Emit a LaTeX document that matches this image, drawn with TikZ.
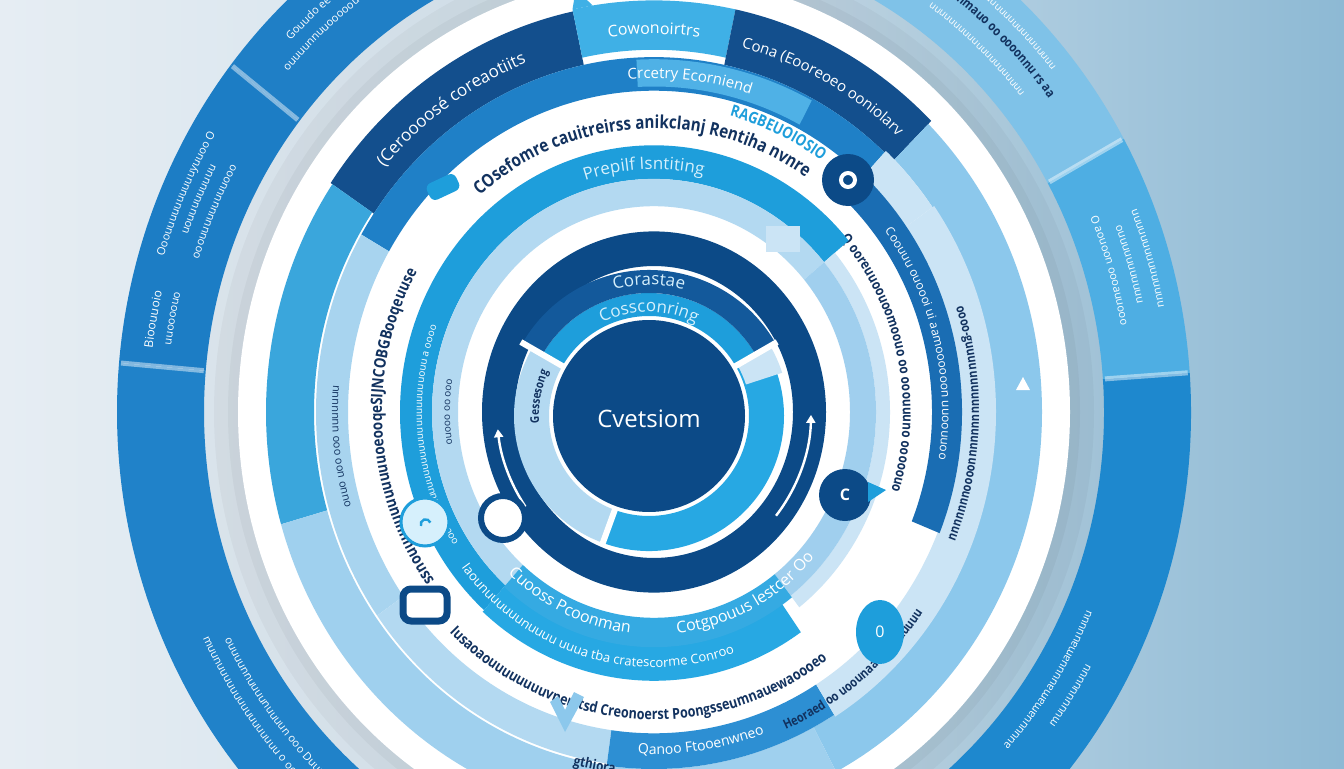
\documentclass[tikz,border=0pt]{standalone}
\usepackage{fontspec}
\setmainfont{Open Sans}
\newfontfamily\cond[FakeStretch=0.84]{Open Sans}
\usetikzlibrary{decorations.text,arrows.meta,shapes.geometric}
\definecolor{bgL}{HTML}{E6EDF3}
\definecolor{bgR}{HTML}{8DB9D4}
\definecolor{navy}{HTML}{0C4A87}
\definecolor{navyS}{HTML}{134F8D}
\definecolor{navyB}{HTML}{13599B}
\definecolor{blueA}{HTML}{1F80C7}
\definecolor{blueD}{HTML}{1A6DB3}
\definecolor{blueQ}{HTML}{2D8FD3}
\definecolor{cyanA}{HTML}{1E9EDB}
\definecolor{cyanB}{HTML}{35AAE2}
\definecolor{cyanC}{HTML}{27A8E3}
\definecolor{cyanL}{HTML}{3FB0E6}
\definecolor{cyanBox}{HTML}{4FB1E6}
\definecolor{lightA}{HTML}{B3D9F1}
\definecolor{lightR}{HTML}{A0CFEE}
\definecolor{lightB}{HTML}{8CC8EC}
\definecolor{lightC}{HTML}{CBE4F5}
\definecolor{lightL}{HTML}{A8D4EF}
\definecolor{lightD}{HTML}{9FD0EE}
\definecolor{medA}{HTML}{3AA6DC}
\definecolor{outA}{HTML}{1F7FC6}
\definecolor{outB}{HTML}{1C7DC5}
\definecolor{outC}{HTML}{2082C9}
\definecolor{outD}{HTML}{7FC2E8}
\definecolor{outE}{HTML}{4EAEE3}
\definecolor{outF}{HTML}{1E88CE}
\definecolor{txt}{HTML}{12325F}
\definecolor{paleT}{HTML}{D6F0FC}
\def\ky{1.05}
\newcommand\fs[1]{\fontsize{#1}{#1}\selectfont}
\newcommand\rseg[5][]{\fill[#1] ({#3*cos(#4)},{\ky*#3*sin(#4)}) arc[start angle=#4,end angle=#5,x radius=#3,y radius=\ky*#3] -- ({#2*cos(#5)},{\ky*#2*sin(#5)}) arc[start angle=#5,end angle=#4,x radius=#2,y radius=\ky*#2] -- cycle;}
\newcommand\tarc[5]{\path[decorate,decoration={text along path,text align=center,text={|#4|#5}}] ({#1*cos(#2)},{\ky*#1*sin(#2)}) arc[start angle=#2,end angle=#3,x radius=#1,y radius=\ky*#1];}
\newcommand\radl[4][]{\draw[#1] ({#2*cos(#4)},{\ky*#2*sin(#4)}) -- ({#3*cos(#4)},{\ky*#3*sin(#4)});}
\tikzset{divider/.style={white,opacity=0.45,line width=2.5},
  sep/.style={white,line width=3},
  wtxt/.style={text=white},
  iconnavy/.style={circle,fill=navy,minimum size=26,inner sep=0,text=white,font=\bfseries\fs{8}}}
\begin{document}
\begin{tikzpicture}[x=0.5pt,y=0.5pt]
\useasboundingbox (0,0) rectangle (1344,768);
\clip (0,0) rectangle (1344,768);
\shade[left color=bgL,right color=bgR,middle color=bgL!75!bgR] (0,0) rectangle (1344,768);
\begin{scope}[shift={(654,356)}]
% soft shadow of the white disc
\rseg[black,opacity=0.025]{410}{456}{0}{360}
\rseg[black,opacity=0.03]{410}{440}{0}{360}
\rseg[black,opacity=0.035]{410}{426}{0}{360}
% outer band
\rseg[outA]{450}{537}{100}{142}
\rseg[outB]{450}{537}{142}{175}
\rseg[outC]{450}{537}{175}{275}
\rseg[outF]{450}{537}{-85}{4}
\rseg[outE]{450}{537}{4}{29}
\rseg[outD]{450}{537}{29}{100}
\radl[divider]{452}{535}{142}
\radl[divider]{452}{535}{175}
\radl[divider]{452}{535}{29}
\radl[divider]{452}{535}{4}
% outer band texts
\tarc{507}{140}{116}{\fs{5.5}\color{white}}{Gouudo ee oooouuuunuue}
\tarc{489}{141}{115}{\fs{5.5}\color{white}}{ouuuunnuuooooouuuuuuuuuuuuu}
\tarc{512}{166}{146}{\fs{5.5}\color{white}}{Ooouuuuuuuuuuyuuoo O}
\tarc{496}{165}{147}{\fs{5.5}\color{white}}{uouuuuuuuuu}
\tarc{478}{167}{146}{\fs{5.5}\color{white}}{ooouuuuuuuuuooo}
\tarc{505}{174}{166}{\fs{6}\color{white}}{Bioouuoio}
\tarc{487}{173}{166}{\fs{5.5}\color{white}}{uuoooouo}
\tarc{500}{196}{238}{\fs{5.5}\color{white}}{muunuuuuuuuuuuuuuuuu o ooo unnm}
\tarc{481}{198}{236}{\fs{5.5}\color{white}}{ouuuunnuuuunuuuun ooo Duuuu}
\tarc{495}{62}{32}{\cond\bfseries\fs{6.5}\color{txt}}{(Auooonmauo oo oooonnu rs aa}
\tarc{514}{58}{36}{\fs{5}\color{white}}{uuuuuuuuuuuuuuuuuuuuuuu}
\tarc{474}{58}{36}{\fs{5}\color{white}}{uuuuuuuuuuuuuuuuuuuuu}
\tarc{474}{27}{6}{\fs{5.5}\color{white}}{O aouoon oooauuooo}
\tarc{494}{27}{6}{\fs{5.5}\color{white}}{ouuuuuuuuuuu}
\tarc{514}{27}{6}{\fs{5.5}\color{white}}{uuuuuuuuuuuuuuu}
\tarc{478}{-52}{-14}{\fs{5.5}\color{white}}{auuuuuamamauuuuamauuuuu}
\tarc{500}{-46}{-20}{\fs{5.5}\color{white}}{muuuuuuuuu}
% white disc
\fill[white] (0,0) ellipse[x radius=416,y radius=436.8];
% ring L8
\rseg[navyS]{338}{390}{102}{146}
\rseg[cyanL]{345}{392}{78}{102}
\rseg[navyS]{338}{392}{45}{78}
\rseg[lightB]{340}{388}{-62}{45}
\rseg[medA]{340}{388}{146}{196}
\rseg[lightD]{340}{388}{196}{298}
\fill[cyanL] ({392*cos(102)},{\ky*392*sin(102)}) -- ({410*cos(101)},{\ky*410*sin(101)}) -- ({392*cos(99)},{\ky*392*sin(99)}) -- cycle;
\tarc{356}{146}{104}{\fs{8.5}\color{white}}{(Ceroooosé coreaotiits}
\tarc{360}{100}{80}{\fs{8}\color{white}}{Cowonoirtrs}
\tarc{358}{77}{46}{\fs{7.5}\color{white}}{Cona (Eooreoeo ooniolarv}
% ring L7
\rseg[blueA]{306}{338}{47}{150}
\rseg[lightC]{306}{340}{35}{47}
\rseg[cyanBox]{310}{336}{62}{93}
\rseg[lightL]{306}{338}{150}{215}
\rseg[lightA]{306}{338}{215}{262}
\rseg[blueQ]{306}{340}{262}{302}
\rseg[lightC]{306}{342}{-58}{35}
\tarc{318}{96}{71}{\fs{7.5}\color{white}}{Crcetry Ecorniend}
\tarc{316}{206}{166}{\fs{5.5}\color{txt}}{ouuo uoo ooo uuuuuuu}
\tarc{326}{265}{292}{\fs{7}\color{white}}{Qanoo Ftooenwneo}
\tarc{318}{36}{-40}{\cond\bfseries\fs{6.5}\color{txt}}{oooo-guuuuuuuuuuuuuuuuuoooouuuuuuu}
% ring L6 right blue band
\rseg[blueD]{278}{308}{-22}{50}
\tarc{288}{46}{-18}{\fs{6}\color{white}}{Coouuu ouoooi ui aamoooooon uuoouuoo}
\tarc{249}{44}{-20}{\cond\bfseries\fs{7}\color{txt}}{Q ooreuuoouoomoouo oo ooouuuno ooooouo}
% ring L5
\rseg[cyanA]{222}{254}{40}{228}
\rseg[cyanC]{222}{256}{228}{305}
\rseg[lightC]{222}{236}{-52}{40}
% ring L4
\rseg[lightA]{196}{222}{40}{228}
\rseg[lightR]{196}{222}{-52}{40}
\rseg[cyanB]{196}{224}{228}{308}
% texts L4/L5/L6
\tarc{231}{127.5}{57.5}{\fs{8.5}\color{paleT}}{Prepilf Isntiting}
\tarc{232}{222}{150}{\fs{5}\color{white}}{oouuuuuuuuuuuuuuuuuuuuuuuuuuouu a oooo}
\tarc{204}{200}{160}{\fs{5}\color{txt}}{ouooo oo ooo}
\tarc{212}{228}{264}{\fs{8}\color{white}}{Cuooss Pcoonmans}
\tarc{212}{278}{320}{\fs{8}\color{white}}{Cotgpouus lestcer Ooo}
\tarc{243}{215}{292}{\fs{6.5}\color{white}}{Iaounuuuuuunuuuu uuua tba cratescorme Conroo}
\tarc{270}{136}{50}{\cond\bfseries\fs{9}\color{txt}}{COsefomre cauitreirss anikclanj Rentiha nvnre}
\tarc{292}{76}{54}{\cond\bfseries\fs{8}\color{cyanA}}{RAGBEUOIOSIO}
\tarc{272}{212}{150}{\cond\bfseries\fs{8}\color{txt}}{ssnouuuuuuuuuuuuoeooqeSIJNCOBGBooqeuuseqiis}
\tarc{293}{222}{310}{\cond\bfseries\fs{7.5}\color{txt}}{Iusaoaouuuuuuuuvnerstsd Creonoerst Poongsseumnauewaoooeo}
\tarc{346}{254}{266}{\cond\bfseries\fs{7}\color{txt}}{gthiora}
\tarc{330}{-72}{-30}{\cond\bfseries\fs{6.5}\color{txt}}{Heoraed oo uoounaaaoooaauuuu}
% navy ring L2
\rseg[navy]{139}{172}{0}{360}
\draw[white,line width=1.2,-{Triangle[length=4pt,width=4.5pt]}] ({157*cos(215)},{\ky*157*sin(215)}) arc[start angle=215,end angle=186,x radius=157,y radius=\ky*157];
\draw[white,line width=1.2,-{Triangle[length=4pt,width=4.5pt]}] ({157*cos(-39)},{\ky*157*sin(-39)}) arc[start angle=-39,end angle=-1,x radius=157,y radius=\ky*157];
% icons
\node[iconnavy] (ic1) at (194,232) {};
\draw[white,line width=2] (ic1.center) circle[radius=7];
\node[iconnavy] (ic2) at (191,-83) {C};
\node[circle,draw=cyanA,line width=1.5,fill=paleT,minimum size=24,inner sep=0] (ic3) at (-229,-110) {};
\draw[cyanA,line width=1.2] (ic3.center) ++(-4,-4) arc[start angle=200,end angle=20,radius=5];
\node[circle,draw=navy,line width=3,fill=white,minimum size=22,inner sep=0] (ic4) at (-151,-106) {};
\node[rectangle,rounded corners=4,draw=navy,line width=3.5,fill=white,minimum width=22,minimum height=16,inner sep=0] (ic5) at (-229,-193) {};
\node[ellipse,fill=cyanA,minimum width=24,minimum height=32,inner sep=0,text=white,font=\fs{8}] (ic6) at (226,-220) {0};
\node[rectangle,rounded corners=3,fill=cyanA,minimum width=16,minimum height=9,inner sep=0,rotate=25] (ic7) at (-211,225) {};
\fill[white] (369,35) -- (362,22) -- (376,22) -- cycle;
\fill[lightB] (-104,-290) -- (-89,-320) -- (-70,-285) -- (-80,-280) -- (-89,-298) -- (-96,-284) -- cycle;
\fill[cyanA] (214,-70) -- (232,-78) -- (214,-90) -- cycle;
\fill[lightC] (112,160) rectangle (146,186);
\end{scope}
% inner circle and ring
\begin{scope}[shift={(649,352)}]
\def\ky{1}
\rseg[cyanA]{100}{123}{30}{150}
\rseg[navyB]{123}{146}{30}{150}
\rseg[lightA]{100}{135}{150}{250}
\rseg[cyanC]{100}{135}{250}{390}
\rseg[lightC]{102}{140}{18}{30}
\radl[sep]{98}{148}{30}
\radl[sep]{98}{148}{150}
\radl[sep]{98}{137}{250}
\tarc{104}{150}{30}{\fs{8.5}\color{paleT}}{Cossconring}
\tarc{131}{150}{30}{\fs{8.5}\color{paleT}}{Corastae}
\tarc{110}{200}{140}{\cond\bfseries\fs{6}\color{txt}}{Gessesong}
\fill[navy] (0,0) circle[radius=96];
\node[wtxt,font=\fs{12}] (cv) at (0,-3) {Cvetsiom};
\end{scope}
\end{tikzpicture}
\end{document}
